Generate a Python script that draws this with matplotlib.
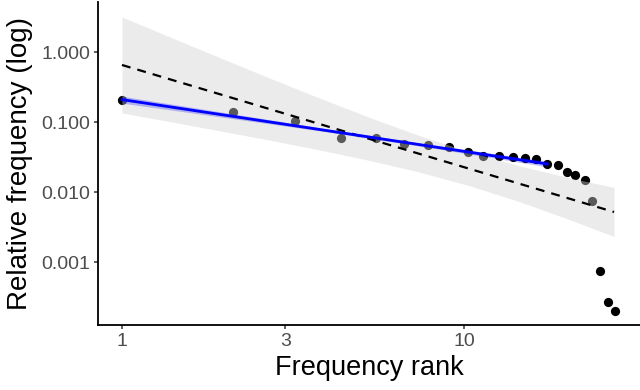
import numpy as np
import matplotlib
matplotlib.use("Agg")
import matplotlib.pyplot as plt

rank = [1.0, 2.11, 3.2, 4.36, 5.53, 6.68, 7.85, 9.04, 10.3, 11.4, 12.65, 13.9,
        15.1, 16.2, 17.5, 18.8, 20.0, 21.1, 22.6, 23.7, 25.0, 26.4, 27.6]
freq = [0.211, 0.138, 0.104, 0.0604, 0.0597, 0.0497, 0.0474, 0.044, 0.038,
        0.033, 0.033, 0.0323, 0.0306, 0.0296, 0.0254, 0.0248, 0.0197, 0.0177,
        0.015, 0.0075, 0.00076, 0.00027, 0.0002]

# grey confidence band around the dashed fit
band_x = [1.0, 1.381, 1.935, 2.708, 3.793, 5.31, 7.434, 10.41, 14.58, 20.41, 27.45]
band_hi = [3.194, 1.654, 0.837, 0.4266, 0.2203, 0.1167, 0.0641, 0.0375,
           0.02375, 0.016, 0.01175]
band_lo = [0.1358, 0.1023, 0.0754, 0.0555, 0.0401, 0.0284, 0.01937, 0.01234,
           0.00731, 0.00405, 0.00233]

# dashed fit
dash_x = [1.0, 27.45]
dash_y = [0.659, 0.00523]

# blue fit over the head of the distribution
blue_x = [1.0, 17.5]
blue_y = [0.211, 0.0254]
blue_band_x = [1.0, 4.0, 8.0, 17.5]
blue_lo = [0.188, 0.0727, 0.0432, 0.0231]
blue_hi = [0.236, 0.0801, 0.0477, 0.0279]

xticks = [1, 3, 10]
xticklabels = ["1", "3", "10"]
yticks = [1.0, 0.1, 0.01, 0.001]
yticklabels = ["1.000", "0.100", "0.010", "0.001"]

plt.rcParams["font.family"] = ["Liberation Sans", "DejaVu Sans"]

fig = plt.figure(figsize=(6.4, 3.9), dpi=100)
ax = fig.add_axes([98 / 640, 65 / 390, 542 / 640, 323 / 390])

ax.scatter(rank, freq, s=44, color="black", linewidths=0, zorder=2)
ax.fill_between(band_x, band_lo, band_hi, color=(0.82, 0.82, 0.82), alpha=0.43,
                linewidth=0, zorder=3)
ax.plot(dash_x, dash_y, color="black", lw=1.6, ls=(0, (4, 3.2)), zorder=4)
ax.fill_between(blue_band_x, blue_lo, blue_hi, color="#0000ff", alpha=0.25,
                linewidth=0, zorder=5)
ax.plot(blue_x, blue_y, color="#0000ff", lw=2.0, zorder=6)

ax.set_xscale("log")
ax.set_yscale("log")
ax.set_xlim(0.851, 32.7)
ax.set_ylim(0.000127, 5.23)
ax.set_xticks(xticks)
ax.set_xticklabels(xticklabels)
ax.set_yticks(yticks)
ax.set_yticklabels(yticklabels)
ax.minorticks_off()

for s in ("top", "right"):
    ax.spines[s].set_visible(False)
for s in ("left", "bottom"):
    ax.spines[s].set_linewidth(1.3)
ax.tick_params(length=3, width=1.1, color="#333333", labelcolor="#4d4d4d",
               labelsize=14, pad=2.5)

ax.set_xlabel("Frequency rank", fontsize=19.5, labelpad=4)
ax.set_ylabel("Relative frequency (log)", fontsize=20, labelpad=6)

fig.savefig("out.png", dpi=100)
